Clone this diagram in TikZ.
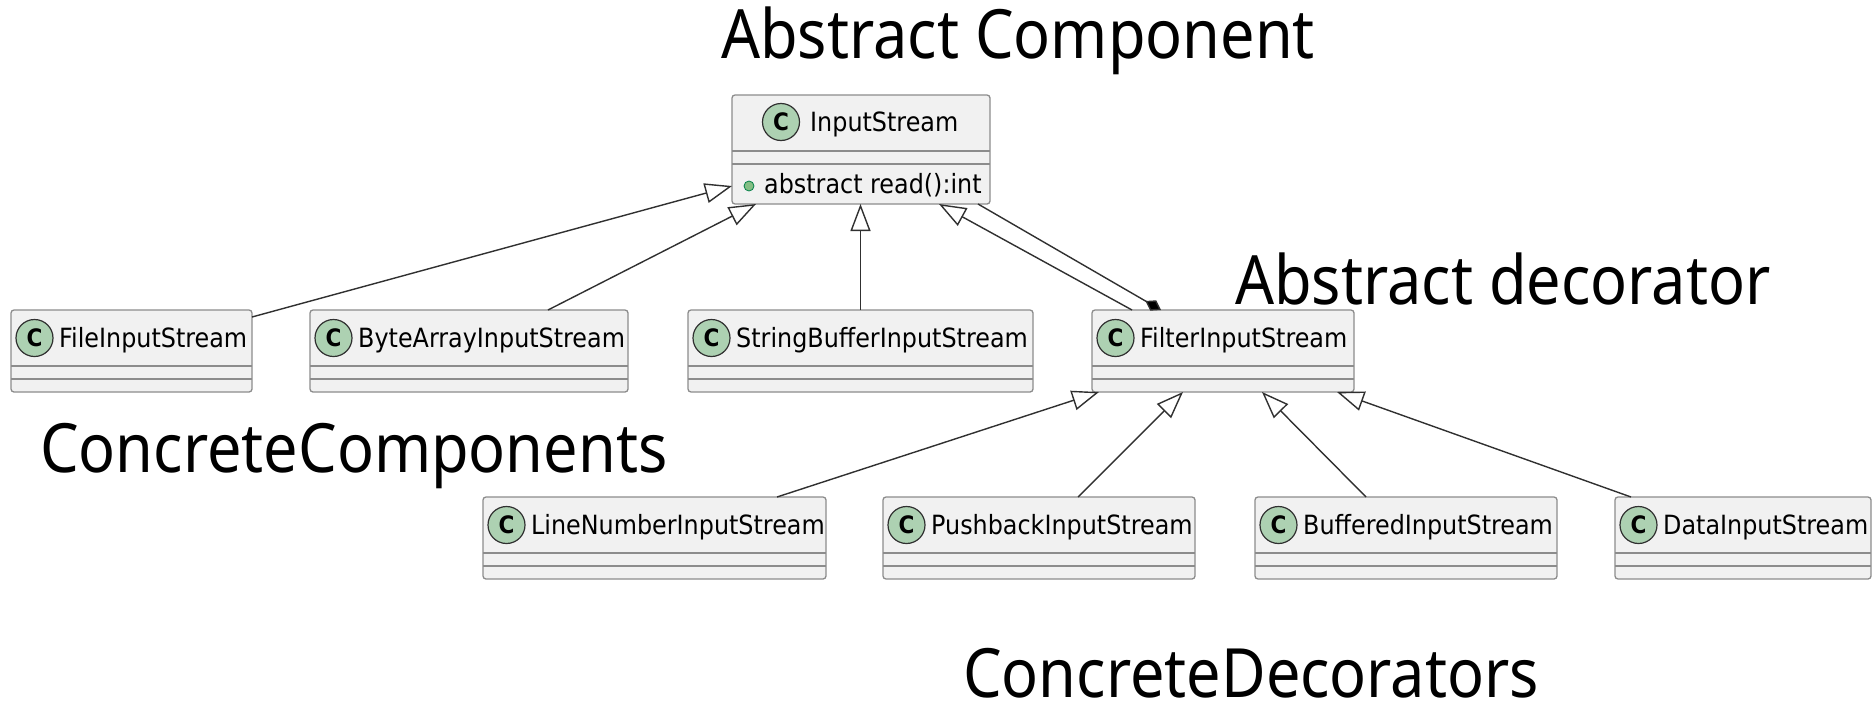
\documentclass[tikz,border=0pt]{standalone}
\usepackage{fontspec}
\newfontfamily\titlefont[FakeStretch=0.9]{Noto Sans}
\newfontfamily\umlfont[FakeStretch=0.9]{DejaVu Sans}
\usetikzlibrary{arrows.meta,calc}
\definecolor{boxfill}{HTML}{F1F1F1}
\definecolor{boxline}{HTML}{8C8C8C}
\definecolor{linecol}{HTML}{303030}
\definecolor{cfill}{HTML}{ADD1B2}
\definecolor{dotfill}{HTML}{84BE84}
\definecolor{dotline}{HTML}{038048}
\tikzset{
 classbox/.style={draw=boxline, fill=boxfill, line width=1.3pt, rounded corners=3pt, inner sep=0pt, outer sep=0pt},
 sepline/.style={draw=boxline, line width=1.3pt},
 cbadge/.style={circle, draw=linecol, fill=cfill, line width=1.2pt, minimum size=37pt, inner sep=0pt, font=\umlfont\bfseries\fontsize{24}{24}\selectfont},
 clabel/.style={inner sep=0pt, font=\umlfont\fontsize{26.5}{30}\selectfont, text=black},
 titletext/.style={inner sep=0pt, anchor=base west, font=\titlefont\fontsize{68}{80}\selectfont},
 inherit/.style={draw=linecol, line width=1.4pt, -{Triangle[open, length=27pt, width=20pt]}},
 compose/.style={draw=linecol, line width=1.4pt, -{Diamond[length=18pt, width=12pt, fill=black]}},
}
\newcommand\umlclass[6]{%
 \node[classbox, minimum width={(#4)-(#2)}, minimum height={(#5)-(#3)}] (#1) at ({((#2)+(#4))/2},{((#3)+(#5))/2}) {};
 \draw[sepline] ($(#1.north west)+(0,56)$) -- ($(#1.north east)+(0,56)$);
 \draw[sepline] ($(#1.north west)+(0,69)$) -- ($(#1.north east)+(0,69)$);
 \node[cbadge] (#1-c) at ($(#1.north west)+(23.5,28)$) {C};
 \node[clabel, anchor=base west] (#1-t) at ($(#1.north west)+(48,37.5)$) {#6};
}
\begin{document}
\begin{tikzpicture}[x=1pt,y=-1pt]
\fill[white] (0,0) rectangle (1872,707);
\useasboundingbox (0,0) rectangle (1872,707);

% InputStream
\node[classbox, minimum width=258, minimum height=109] (is) at (861,149.5) {};
\draw[sepline] ($(is.north west)+(0,56)$) -- ($(is.north east)+(0,56)$);
\draw[sepline] ($(is.north west)+(0,69)$) -- ($(is.north east)+(0,69)$);
\node[cbadge] (is-c) at ($(is.north west)+(49,27)$) {C};
\node[clabel, anchor=base west] (is-t) at ($(is.north west)+(78,36.5)$) {InputStream};
\node[circle, fill=dotfill, draw=dotline, line width=0.8pt, minimum size=10pt, inner sep=0pt] (is-dot) at ($(is.north west)+(17,91)$) {};
\node[clabel, anchor=base west] (is-m) at ($(is.north west)+(32,98)$) {abstract read():int};

\umlclass{fis}{11}{310}{252}{392}{FileInputStream}
\umlclass{bais}{310}{310}{628}{392}{ByteArrayInputStream}
\umlclass{sbis}{688}{310}{1033}{392}{StringBufferInputStream}
\umlclass{filt}{1092}{310}{1354}{392}{FilterInputStream}
\umlclass{lnis}{483}{497}{826}{579}{LineNumberInputStream}
\umlclass{pbis}{883}{497}{1195}{579}{PushbackInputStream}
\umlclass{bfis}{1255}{497}{1557}{579}{BufferedInputStream}
\umlclass{dis}{1615}{497}{1871}{579}{DataInputStream}

% connectors
\draw[inherit] ($(fis.north east)+(0,7)$) -- ($(is.north west)+(0,91)$);
\draw[inherit] ($(bais.north west)+(238,0)$) -- ($(is.south west)+(24,0)$);
\draw[inherit] (sbis.north) -- (sbis.north |- is.south);
\draw[inherit] ($(filt.north west)+(40,0)$) -- ($(is.south west)+(207,0)$);
\draw[compose] ($(is.south west)+(246,0)$) -- ($(filt.north west)+(69,0)$);
\draw[inherit] ($(lnis.north west)+(294,0)$) -- ($(filt.south west)+(7,0)$);
\draw[inherit] ($(pbis.north west)+(195,0)$) -- ($(filt.south west)+(91,0)$);
\draw[inherit] ($(bfis.north west)+(111,0)$) -- ($(filt.south west)+(170,0)$);
\draw[inherit] ($(dis.north west)+(16,0)$) -- ($(filt.south west)+(245,0)$);

% titles
\node[titletext] (tac) at (721,58) {Abstract Component};
\node[titletext] (tad) at (1235,304) {Abstract decorator};
\node[titletext] (tcc) at (40,472) {ConcreteComponents};
\node[titletext, text depth=0pt] (tcd) at (963,697) {ConcreteDecorators};
\end{tikzpicture}
\end{document}
